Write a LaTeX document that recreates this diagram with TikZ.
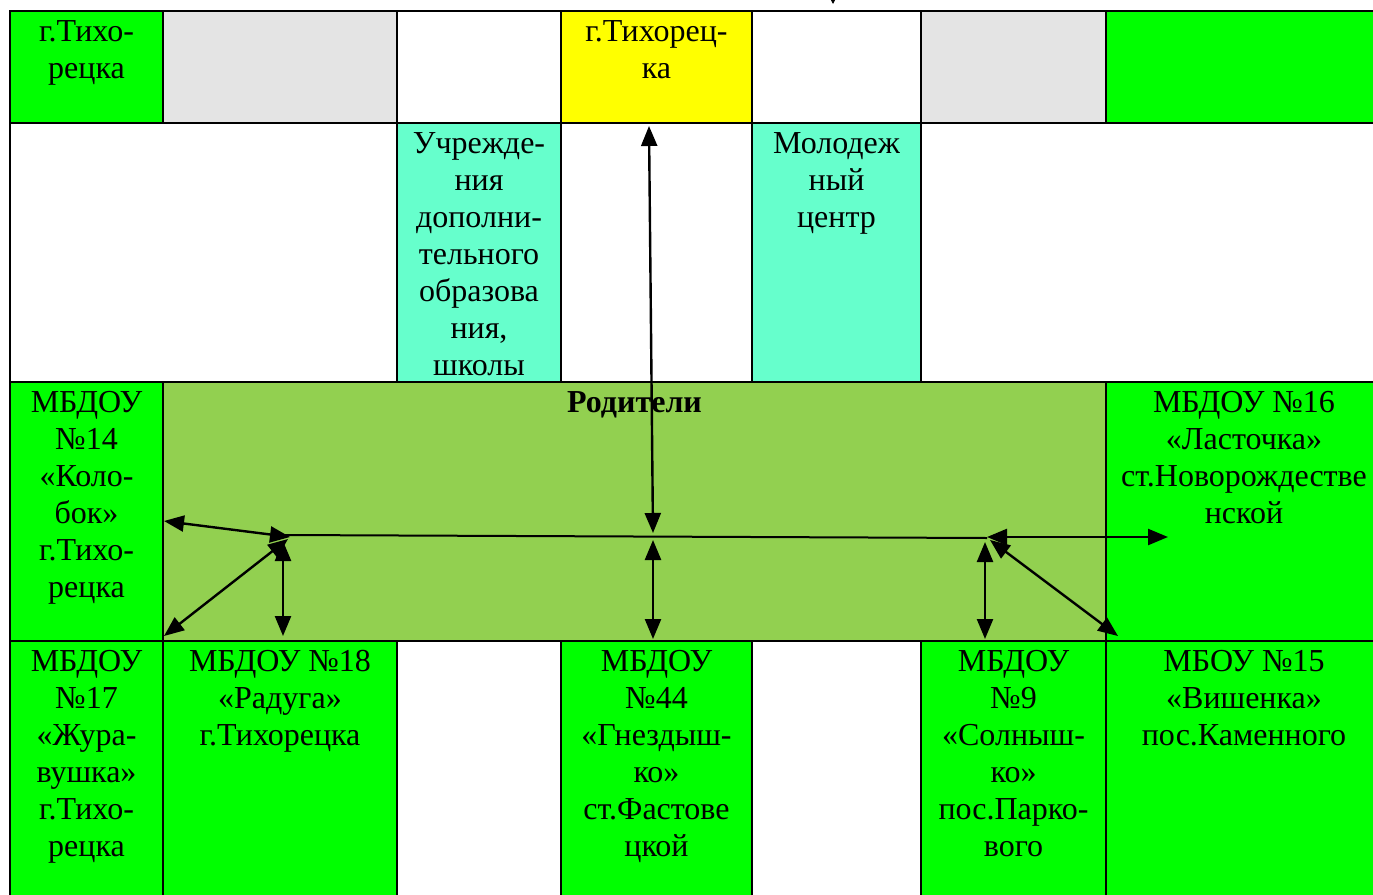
\documentclass[tikz,border=0pt]{standalone}
\usepackage{fontspec}
\setmainfont{Liberation Serif}
\usetikzlibrary{arrows.meta}
\definecolor{cgreen}{HTML}{00FF00}
\definecolor{cgray}{HTML}{E4E4E4}
\definecolor{cyellow}{HTML}{FFFF00}
\definecolor{caqua}{HTML}{66FFCC}
\definecolor{colive}{HTML}{92D050}
\newcommand\mycell[6]{\node[cellbox, fill=#6, minimum width={#4-#2}, minimum height={#5-#3}] (#1) at ({(#2+#4)/2},{(#3+#5)/2}) {};}
\tikzset{
  cellbox/.style={draw=black, line width=2pt, inner sep=0pt, outer sep=0pt},
  txt/.style={anchor=north, inner sep=0pt, align=center, font=\fontsize{32}{37}\selectfont},
  arr/.style={line width=2.4pt, {Triangle[length=20pt,width=16pt]}-{Triangle[length=20pt,width=16pt]}},
  plainline/.style={line width=2pt}
}
\begin{document}
\begin{tikzpicture}[x=1pt,y=-1pt]
\useasboundingbox (0,0) rectangle (1373,894);
\clip (0,0) rectangle (1373,894);
\fill[white] (0,0) rectangle (1373,894);
% row 1
\mycell{a1}{10}{11}{163}{123}{cgreen}
\mycell{a2}{163}{11}{397}{123}{cgray}
\mycell{a3}{397}{11}{561}{123}{white}
\mycell{a4}{561}{11}{752}{123}{cyellow}
\mycell{a5}{752}{11}{921}{123}{white}
\mycell{a6}{921}{11}{1106}{123}{cgray}
\mycell{a7}{1106}{11}{1390}{123}{cgreen}
% row 2
\mycell{b1}{10}{123}{397}{382}{white}
\mycell{b2}{397}{123}{561}{382}{caqua}
\mycell{b3}{561}{123}{752}{382}{white}
\mycell{b4}{752}{123}{921}{382}{caqua}
\mycell{b5}{921}{123}{1390}{382}{white}
% row 3
\mycell{c1}{10}{382}{163}{641}{cgreen}
\mycell{c2}{163}{382}{1106}{641}{colive}
\mycell{c3}{1106}{382}{1382}{641}{cgreen}
% row 4
\mycell{d1}{10}{641}{163}{910}{cgreen}
\mycell{d2}{163}{641}{397}{910}{cgreen}
\mycell{d3}{397}{641}{561}{910}{white}
\mycell{d4}{561}{641}{752}{910}{cgreen}
\mycell{d5}{752}{641}{921}{910}{white}
\mycell{d6}{921}{641}{1106}{910}{cgreen}
\mycell{d7}{1106}{641}{1382}{910}{cgreen}
% texts
\node[txt] (ta1) at ([yshift=-4pt]a1.north) {\strut г.Тихо-\\рецка};
\node[txt] (ta4) at ([yshift=-4pt]a4.north) {\strut г.Тихорец-\\ка};
\node[txt] (tb2) at ([yshift=-4pt]b2.north) {\strut Учрежде-\\ния\\дополни-\\тельного\\образова\\ния,\\школы};
\node[txt] (tb4) at ([yshift=-4pt]b4.north) {\strut Молодеж\\ный\\центр};
\node[txt] (tc1) at ([yshift=-4pt]c1.north) {\strut МБДОУ\\№14\\«Коло-\\бок»\\г.Тихо-\\рецка};
\node[txt] (tc2) at ([yshift=-4pt]c2.north) {\strut\textbf{Родители}};
\node[txt] (tc3) at ([yshift=-4pt]c3.north) {\strut МБДОУ №16\\«Ласточка»\\ст.Новорождестве\\нской};
\node[txt] (td1) at ([yshift=-4pt]d1.north) {\strut МБДОУ\\№17\\«Жура-\\вушка»\\г.Тихо-\\рецка};
\node[txt] (td2) at ([yshift=-4pt]d2.north) {\strut МБДОУ №18\\«Радуга»\\г.Тихорецка};
\node[txt] (td4) at ([yshift=-4pt]d4.north) {\strut МБДОУ\\№44\\«Гнездыш-\\ко»\\ст.Фастове\\цкой};
\node[txt] (td6) at ([yshift=-4pt]d6.north) {\strut МБДОУ\\№9\\«Солныш-\\ко»\\пос.Парко-\\вого};
\node[txt] (td7) at ([yshift=-4pt]d7.north) {\strut МБОУ №15\\«Вишенка»\\пос.Каменного};
% coordinates for connectors
\coordinate (ctop) at (649,126);
\coordinate (chubA) at (653,533);
\coordinate (chubB) at (653,540);
\coordinate (cbot) at (653,639);
\coordinate (lhub) at (283,535);
\coordinate (rhub) at (987,538);
\coordinate (lA) at (164,521);
\coordinate (lAe) at (290,537);
\coordinate (lB) at (164,636);
\coordinate (lBe) at (288,539);
\coordinate (lC) at (283,541);
\coordinate (lCe) at (283,636);
\coordinate (rA) at (987,537);
\coordinate (rAe) at (1168,537);
\coordinate (rC) at (985,542);
\coordinate (rCe) at (985,639);
\coordinate (rB) at (990,540);
\coordinate (rBe) at (1118,636);
\coordinate (topS) at (833,-6);
\coordinate (topE) at (833,4);
% connectors
\draw[plainline] (lhub) -- (rhub);
\draw[arr] (ctop) -- (chubA);
\draw[arr] (chubB) -- (cbot);
\draw[arr] (lA) -- (lAe);
\draw[arr] (lB) -- (lBe);
\draw[arr] (lC) -- (lCe);
\draw[arr] (rA) -- (rAe);
\draw[arr] (rC) -- (rCe);
\draw[arr] (rB) -- (rBe);
\draw[line width=1pt, -{Triangle[length=5pt,width=5pt]}] (topS) -- (topE);
\end{tikzpicture}
\end{document}
